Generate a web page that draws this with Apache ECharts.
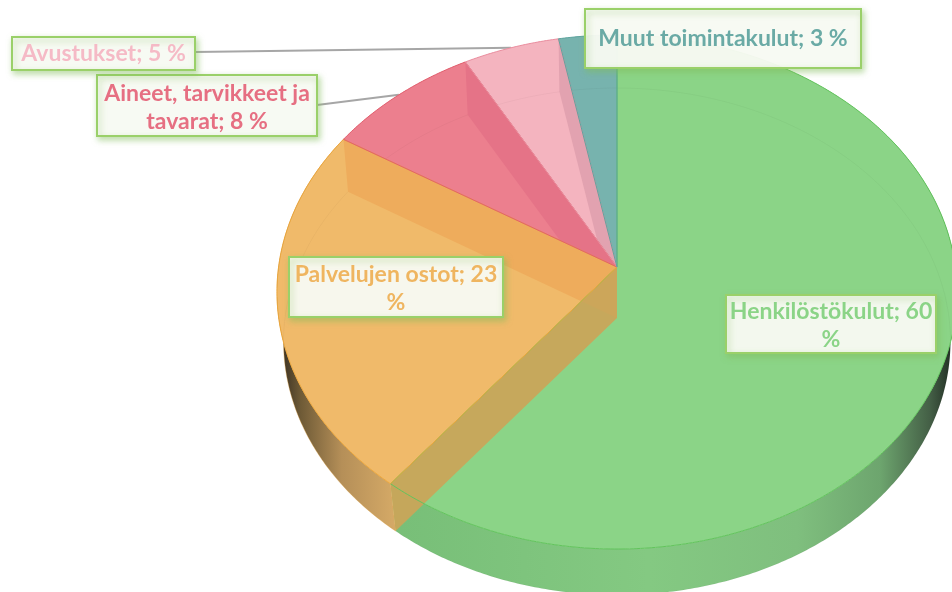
<!DOCTYPE html>
<html>
<head>
<meta charset="utf-8">
<style>
  html, body { margin: 0; padding: 0; background: #fff; }
  #chart { width: 952px; height: 592px; }
</style>
<script src="https://cdn.jsdelivr.net/npm/echarts@6/dist/echarts.min.js"></script>
</head>
<body>
<div id="chart"></div>
<script>
// data, clockwise from 12 o'clock (the labels add up to 99)
const names = ['Henkilöstökulut', 'Palvelujen ostot', 'Aineet, tarvikkeet ja tavarat', 'Avustukset', 'Muut toimintakulut'];
const values = [60, 23, 8, 5, 3];
const labelTexts = ['Henkilöstökulut; 60\n%', 'Palvelujen ostot; 23\n%', 'Aineet, tarvikkeet ja\ntavarat; 8 %', 'Avustukset; 5 %', 'Muut toimintakulut; 3 %'];

// styles
const topColors = ['#8bd487', '#f0ba6a', '#ec7f8e', '#f4b4bf', '#77b3ae'];
const edgeColors = ['#62c45c', '#eda73c', '#e2606f', '#ea8fa0', '#5fa59f'];
const textColors = ['#8bd487', '#efb560', '#e66f82', '#f5bac6', '#6aaaa5'];
const wallColors = ['#c9a55a', '#eeac5c', '#e57387', '#e2a2b0'];
const labelBoxes = [[726, 295, 210, 58], [289, 257, 214, 60], [97, 75, 220, 61], [12, 37, 183, 33], [585, 9, 276, 59]];

// the disc is a tilted circle: the far rim is squeezed, the near rim stretched
const topFace = { cx: 617, cy: 267, rx: 338.4, ry: 254.6, k: 0.0973 };
const bottomFace = { cx: 617, cy: 318, rx: 332, ry: 251.3, k: 0.0927 };

const total = values.reduce((a, b) => a + b, 0);
const edges = [0];
values.forEach((v, i) => edges.push(edges[i] + v / total * 2 * Math.PI));

function rim(face, a) {
  const x = Math.sin(a), y = -Math.cos(a);
  const w = 1 - face.k * y;
  return [face.cx + face.rx * x / w, face.cy + face.ry * y / w];
}

function arc(face, a0, a1) {
  const steps = Math.max(2, Math.ceil((a1 - a0) / 0.01));
  const pts = [];
  for (let i = 0; i <= steps; i++) pts.push(rim(face, a0 + (a1 - a0) * i / steps));
  return pts;
}

const sideFills = [
  new echarts.graphic.LinearGradient(400, 0, 952, 0, [
    { offset: 0, color: '#78bf78' },
    { offset: 0.45, color: '#84c982' },
    { offset: 0.72, color: '#7fbf7e' },
    { offset: 0.87, color: '#6da56e' },
    { offset: 0.96, color: '#445f46' },
    { offset: 1, color: '#222e24' }
  ], true),
  new echarts.graphic.LinearGradient(283, 0, 400, 0, [
    { offset: 0, color: '#3e3424' },
    { offset: 0.15, color: '#6e5a36' },
    { offset: 0.5, color: '#b58f58' },
    { offset: 1, color: '#d8ac68' }
  ], true),
  '#ec7f8e', '#f4b4bf', '#77b3ae'
];

function layer(renderItem) {
  return {
    type: 'custom',
    coordinateSystem: 'none',
    silent: true,
    animation: false,
    clip: false,
    data: values.map((v, i) => ({ name: names[i], value: v })),
    renderItem
  };
}

// leader lines for the two small labels, they end on the middle of the slice's rim
function leaderLayer(params) {
  const i = params.dataIndex;
  if (i !== 2 && i !== 3) return { type: 'group', children: [] };
  const box = labelBoxes[i];
  const end = rim(topFace, (edges[i] + edges[i + 1]) / 2);
  return {
    type: 'polyline',
    shape: { points: [[box[0] + box[2], box[1] + (i === 2 ? 30 : 15)], end] },
    style: { stroke: '#a6a6a6', lineWidth: 2, fill: null }
  };
}

function sideLayer(params) {
  const i = params.dataIndex;
  return {
    type: 'polygon',
    shape: { points: arc(topFace, edges[i], edges[i + 1]).concat(arc(bottomFace, edges[i], edges[i + 1]).reverse()) },
    style: { fill: sideFills[i], stroke: i === 1 ? '#eda73c55' : null, lineWidth: 1 }
  };
}

function topLayer(params) {
  const i = params.dataIndex;
  return {
    type: 'polygon',
    shape: { points: [[topFace.cx, topFace.cy]].concat(arc(topFace, edges[i], edges[i + 1])) },
    style: { fill: topColors[i] }
  };
}

// inner cut walls seen through the top, plus the faint far rim of the bottom.
// z2 puts the lower-numbered walls in front near the centre
function wallLayer(params) {
  const i = params.dataIndex;
  const kids = [{
    type: 'polyline',
    shape: { points: arc(bottomFace, edges[i], edges[i + 1]) },
    style: { stroke: 'rgba(0,0,0,0.03)', lineWidth: 1, fill: null }
  }];
  if (i < 4) {
    const a = edges[i + 1];
    kids.push({
      type: 'polygon',
      z2: 5 - i,
      shape: { points: [[topFace.cx, topFace.cy], rim(topFace, a), rim(bottomFace, a), [bottomFace.cx, bottomFace.cy]] },
      style: { fill: wallColors[i], opacity: i === 0 ? 0.95 : 1 }
    });
  }
  return { type: 'group', children: kids };
}

function outlineLayer(params) {
  const i = params.dataIndex;
  const pts = [[topFace.cx, topFace.cy]].concat(arc(topFace, edges[i], edges[i + 1]));
  pts.push([topFace.cx, topFace.cy]);
  return {
    type: 'polyline',
    z2: 10,
    shape: { points: pts },
    style: { stroke: edgeColors[i], lineWidth: 1, fill: null }
  };
}

function labelLayer(params) {
  const i = params.dataIndex;
  const b = labelBoxes[i];
  const twoLines = labelTexts[i].indexOf('\n') >= 0;
  return {
    type: 'group',
    children: [{
      type: 'rect',
      z2: 20,
      shape: { x: b[0], y: b[1], width: b[2], height: b[3] },
      style: {
        fill: 'rgba(252,252,248,0.92)', stroke: '#9ad069', lineWidth: 2,
        shadowColor: 'rgba(130,190,90,0.55)', shadowBlur: 6, shadowOffsetX: 2, shadowOffsetY: 3
      }
    }, {
      type: 'text',
      z2: 21,
      style: {
        x: b[0] + b[2] / 2,
        y: b[1] + b[3] / 2 + (twoLines ? 2 : 0),
        text: labelTexts[i],
        fill: textColors[i],
        font: 'bold 23px Lato, sans-serif',
        lineHeight: 28,
        align: 'center',
        verticalAlign: 'middle'
      }
    }]
  };
}

const chart = echarts.init(document.getElementById('chart'));
chart.setOption({
  backgroundColor: '#ffffff',
  animation: false,
  series: [
    layer(leaderLayer),
    layer(sideLayer),
    layer(topLayer),
    layer(wallLayer),
    layer(outlineLayer),
    layer(labelLayer)
  ]
});
</script>
</body>
</html>
